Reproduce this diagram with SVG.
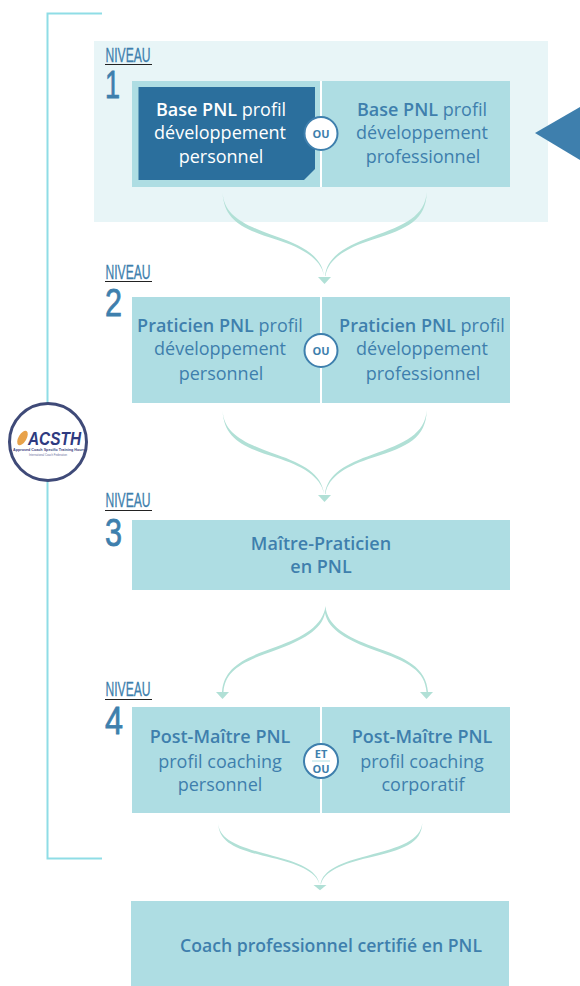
<svg xmlns="http://www.w3.org/2000/svg" xmlns:xlink="http://www.w3.org/1999/xlink" width="580" height="986" viewBox="0 0 580 986">
<style>
.box{fill:#aedde3}
.div{stroke:#fff;stroke-width:2}
.arrow{fill:#b1e0d6}
.t{font-family:"Open Sans","Noto Sans",sans-serif;font-size:18px;fill:#3e7fad;text-anchor:middle}
.t tspan.b,.b{font-weight:600}
.niv{font-family:"Liberation Sans Narrow","Liberation Sans",sans-serif;font-size:20px;fill:#3e7fad;stroke:#3e7fad;stroke-width:.3}
.num{font-family:"Liberation Sans Narrow","Liberation Sans",sans-serif;font-size:39px;fill:#3e7fad;stroke:#3e7fad;stroke-width:.8}
.ul{stroke:#222;stroke-width:1}
.badge{fill:#fff;stroke:#3e7fad;stroke-width:2}
.o{font-family:"Open Sans","Noto Sans",sans-serif;font-size:11px;font-weight:700;fill:#3e7fad;text-anchor:middle}
</style>
<defs>
<g id="merge">
<path class="arrow" d="M222.500 192C224 216 244 225 277 236.800C302 245.500 322 256 324 276H325C327 256 347 245.500 372 236.800C405 225 425 216 426.800 192C426 220 408 228.500 373 239.500C348 247.500 328 258 325.500 276H324C321 258 301 247.500 276 239.500C241 228.500 224 220 222.500 192Z"/>
<path class="arrow" d="M318 277H331L324.500 284Z"/>
</g>
</defs>
<rect x="94" y="41" width="454" height="181" fill="#e8f5f7"/>
<path id="pointer" d="M535 133L580 107V160Z" fill="#3e7fad"/>
<g id="bracket" fill="none" stroke="#8fdde6" stroke-width="2">
<path d="M102 13.500H47.500V858.500H102"/>
</g>
<g id="connectors">
<use xlink:href="#merge" href="#merge"/>
<use xlink:href="#merge" href="#merge" transform="translate(0 218)"/>
<g id="split">
<path class="arrow" d="M325.500 606C323 626 303 637 277 646.500C244 658 224 667 222 692H223.500C225 671 241 662 276 650C301 641 322 630 325 613C328 630 349 641 374 650C409 662 425 671 426.500 692H428C426 667 406 658 373 646.500C347 637 327 626 325.500 606Z"/>
<path class="arrow" d="M216 692H229L222.500 699Z"/>
<path class="arrow" d="M420 692H433L426.500 699Z"/>
</g>
<g transform="translate(-4.500 823) scale(1 .73) translate(0 -192)"><use xlink:href="#merge" href="#merge"/></g>
</g>
<g id="niveau-1">
<text class="niv" x="105.500" y="62" textLength="45" lengthAdjust="spacingAndGlyphs">NIVEAU</text><line class="ul" x1="105" x2="152" y1="64.500" y2="64.500"/>
<text class="num" x="105" y="98" textLength="15" lengthAdjust="spacingAndGlyphs">1</text>
<rect class="box" x="132" y="81" width="378" height="106"/>
<line class="div" x1="321" x2="321" y1="81" y2="187"/>
<path d="M138.500 87H315V169L304 180H138.500Z" fill="#2b6f9d"/>
<text class="t"><tspan x="221" y="116" style="fill:#fff"><tspan class="b">Base PNL</tspan> profil</tspan><tspan x="220" y="139" style="fill:#fff">développement</tspan><tspan x="221" y="163" style="fill:#fff">personnel</tspan></text>
<text class="t"><tspan x="422" y="116"><tspan class="b">Base PNL</tspan> profil</tspan><tspan x="422" y="139">développement</tspan><tspan x="423" y="163">professionnel</tspan></text>
<circle class="badge" cx="321" cy="133.500" r="16.500"/><text class="o" x="321" y="138">OU</text>
</g>
<g id="niveau-2">
<text class="niv" x="105.500" y="279" textLength="45" lengthAdjust="spacingAndGlyphs">NIVEAU</text><line class="ul" x1="105" x2="152" y1="281.500" y2="281.500"/>
<text class="num" x="105" y="316" textLength="17" lengthAdjust="spacingAndGlyphs">2</text>
<rect class="box" x="132" y="297" width="378" height="106"/>
<line class="div" x1="321" x2="321" y1="297" y2="403"/>
<text class="t"><tspan x="220" y="332"><tspan class="b">Praticien PNL</tspan> profil</tspan><tspan x="220" y="355">développement</tspan><tspan x="221" y="380">personnel</tspan></text>
<text class="t"><tspan x="422" y="332"><tspan class="b">Praticien PNL</tspan> profil</tspan><tspan x="422" y="355">développement</tspan><tspan x="423" y="380">professionnel</tspan></text>
<circle class="badge" cx="321" cy="350.500" r="16.500"/><text class="o" x="321" y="355">OU</text>
</g>
<g id="niveau-3">
<text class="niv" x="105.500" y="507" textLength="45" lengthAdjust="spacingAndGlyphs">NIVEAU</text><line class="ul" x1="105" x2="152" y1="510.500" y2="510.500"/>
<text class="num" x="105" y="546" textLength="17" lengthAdjust="spacingAndGlyphs">3</text>
<rect class="box" x="132" y="520" width="378" height="70"/>
<text class="t b"><tspan x="321" y="550">Maître-Praticien</tspan><tspan x="321" y="573">en PNL</tspan></text>
</g>
<g id="niveau-4">
<text class="niv" x="105.500" y="696" textLength="45" lengthAdjust="spacingAndGlyphs">NIVEAU</text><line class="ul" x1="105" x2="152" y1="699.500" y2="699.500"/>
<text class="num" x="105" y="734" textLength="18" lengthAdjust="spacingAndGlyphs">4</text>
<rect class="box" x="132" y="707" width="378" height="106"/>
<line class="div" x1="321" x2="321" y1="707" y2="813"/>
<text class="t"><tspan class="b" x="220" y="743">Post-Maître PNL</tspan><tspan x="220" y="768">profil coaching</tspan><tspan x="220" y="791">personnel</tspan></text>
<text class="t"><tspan class="b" x="422" y="743">Post-Maître PNL</tspan><tspan x="422" y="768">profil coaching</tspan><tspan x="423" y="791">corporatif</tspan></text>
<circle class="badge" cx="321" cy="761" r="17"/>
<text class="o" x="321" y="758">ET</text><line x1="312" x2="330" y1="761" y2="761" stroke="#aedde3" stroke-width="1"/><text class="o" x="321" y="773">OU</text>
</g>
<g id="coach">
<rect class="box" x="131" y="901" width="378" height="85"/>
<text class="t b" x="331" y="952" textLength="302" lengthAdjust="spacingAndGlyphs">Coach professionnel certifié en PNL</text>
</g>
<g id="acsth">
<circle cx="48" cy="442" r="38.500" fill="#fff" stroke="#3f4a78" stroke-width="3"/>
<ellipse cx="22.500" cy="438" rx="4" ry="8" transform="rotate(30 22.500 438)" fill="#e8a24a"/>
<text x="28" y="445" font-family="Liberation Sans,sans-serif" font-size="18" font-weight="700" font-style="italic" fill="#2e3a80" textLength="53" lengthAdjust="spacingAndGlyphs">ACSTH</text>
<text x="49" y="451" font-family="Liberation Sans,sans-serif" font-size="3.500" font-weight="700" fill="#3a4480" text-anchor="middle" textLength="72" lengthAdjust="spacingAndGlyphs">Approved Coach Specific Training Hours</text>
<text x="48" y="456" font-family="Liberation Sans,sans-serif" font-size="3" fill="#6a70a0" text-anchor="middle" textLength="38" lengthAdjust="spacingAndGlyphs">International Coach Federation</text>
</g>
</svg>
